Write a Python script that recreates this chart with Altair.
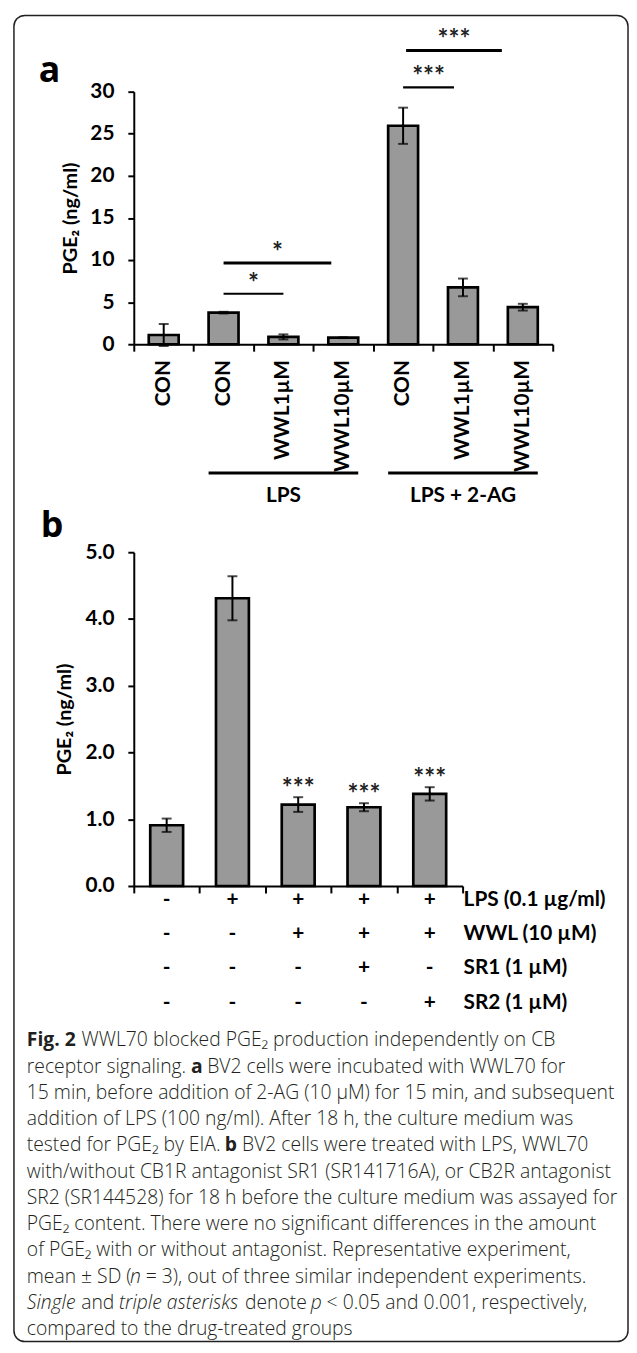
import altair as alt
import pandas as pd

# ---------------- data: panel a ----------------
a_labels = ["CON", "CON", "WWL1µM", "WWL10µM", "CON", "WWL1µM", "WWL10µM"]
a_means = [1.1, 3.75, 0.87, 0.78, 25.95, 6.75, 4.4]
a_sds = [1.3, 0.1, 0.3, 0.05, 2.15, 1.05, 0.4]
a_yticks = [0, 5, 10, 15, 20, 25, 30]
a_group_names = ["LPS", "LPS + 2-AG"]
a_group_first = [1, 4]
a_group_last = [3, 6]
a_sig_labels = ["*", "*", "***", "***"]
a_sig_start = [1.5, 1.5, 4.5, 4.55]
a_sig_end = [2.5, 3.3, 5.35, 6.15]
a_sig_level = [6.0, 9.65, 30.5, 34.9]

# ---------------- data: panel b ----------------
b_means = [0.91, 4.31, 1.22, 1.18, 1.38]
b_sds = [0.1, 0.33, 0.11, 0.06, 0.1]
b_sig = ["", "", "***", "***", "***"]
b_yticks = [0, 1, 2, 3, 4, 5]
table_rows = ["LPS (0.1 µg/ml)", "WWL (10 µM)", "SR1 (1 µM)", "SR2 (1 µM)"]
table_signs = [
    ["-", "+", "+", "+", "+"],
    ["-", "-", "+", "+", "+"],
    ["-", "-", "-", "+", "-"],
    ["-", "-", "-", "-", "+"],
]

# ---------------- caption ----------------
caption_lines = [
    [("Fig. 2", "b"), (" WWL70 blocked PGE₂ production independently on CB", "r")],
    [("receptor signaling. ", "r"), ("a", "b"), (" BV2 cells were incubated with WWL70 for", "r")],
    [("15 min, before addition of 2-AG (10 µM) for 15 min, and subsequent", "r")],
    [("addition of LPS (100 ng/ml). After 18 h, the culture medium was", "r")],
    [("tested for PGE₂ by EIA. ", "r"), ("b", "b"), (" BV2 cells were treated with LPS, WWL70", "r")],
    [("with/without CB1R antagonist SR1 (SR141716A), or CB2R antagonist", "r")],
    [("SR2 (SR144528) for 18 h before the culture medium was assayed for", "r")],
    [("PGE₂ content. There were no significant differences in the amount", "r")],
    [("of PGE₂ with or without antagonist. Representative experiment,", "r")],
    [("mean ± SD (", "r"), ("n", "i"), (" = 3), out of three similar independent experiments.", "r")],
    [("Single", "i"), (" and ", "r"), ("triple asterisks", "i"), (" denote ", "r"), ("p", "i"),
     (" < 0.05 and 0.001, respectively,", "r")],
    [("compared to the drug-treated groups", "r")],
]

# ---------------- layout (pixels) ----------------
LEFT = 134
A_TOP, A_W, A_H = 87, 423, 255
GAP = 210
B_TOP = A_TOP + A_H + GAP
B_W, B_H = 332, 337
C_TOP = B_TOP + B_H + GAP
BLACK = "black"
GREY = "#999999"
FONT = "Lato"
LBL = 21
STAR = 26
CAP_FONT = "Open Sans"
CAP_SIZE = 19.5
CAP_X = 26
CAP_Y0 = 1045
CAP_DY = 26.5

OPEN_SANS = {
    " ": 532, "(": 606, ")": 606, ",": 502, "-": 659, ".": 545, "/": 752, "<": 1171, "=": 1171,
    "±": 1171, "µ": 1268, "₂": 820,
    "A": 1296, "B": 1327, "C": 1292, "D": 1493, "E": 1139, "F": 1057, "G": 1491, "H": 1511,
    "I": 571, "L": 1063, "M": 1849, "N": 1544, "P": 1233, "R": 1266, "S": 1124, "T": 1150,
    "V": 1233, "W": 1882,
    "a": 1133, "b": 1255, "c": 975, "d": 1255, "e": 1149, "f": 694, "g": 1122, "h": 1257,
    "i": 518, "j": 518, "k": 1075, "l": 518, "m": 1905, "n": 1257, "o": 1237, "p": 1255,
    "q": 1255, "r": 836, "s": 977, "t": 723, "u": 1257, "v": 1026, "w": 1593, "x": 1073,
    "y": 1028, "z": 977,
}
for d in "0123456789":
    OPEN_SANS[d] = 1171
STYLE_FACTOR = {"r": 0.957, "b": 1.07, "i": 0.925}


def text_width(s, style):
    return sum(OPEN_SANS.get(ch, 1150) for ch in s) / 2048 * CAP_SIZE * STYLE_FACTOR[style]


def xaxis(n):
    return alt.Axis(values=list(range(n + 1)), labels=False, title=None, grid=False,
                    tickSize=7, tickWidth=2, tickColor=BLACK, domainColor=BLACK, domainWidth=2)


def yaxis(values, fmt, title_x):
    return alt.Axis(values=values, format=fmt, title="PGE₂ (ng/ml)", grid=False,
                    tickSize=6, tickWidth=2, tickColor=BLACK, domainColor=BLACK, domainWidth=2,
                    labelFont=FONT, labelFontWeight="bold", labelFontSize=LBL, labelColor=BLACK,
                    labelPadding=14, titleFont=FONT, titleFontWeight="bold", titleFontSize=20,
                    titleColor=BLACK, titleX=title_x, titleBaseline="middle")


def bar_frame(means, sds):
    n = len(means)
    df = pd.DataFrame({"i": list(range(n)), "mean": means, "sd": sds})
    df["x0"] = df["i"] + 0.25
    df["x1"] = df["i"] + 0.75
    df["xc"] = df["i"] + 0.5
    df["lo"] = df["mean"] - df["sd"]
    df["hi"] = df["mean"] + df["sd"]
    df["base"] = 0.0
    return df


def bar_layers(df, X, Y):
    bars = alt.Chart(df).mark_bar(fill=GREY, stroke=BLACK, strokeWidth=2.7).encode(
        x=X("x0"), x2="x1", y=Y("mean"), y2="base")
    err = alt.Chart(df).mark_rule(color=BLACK, strokeWidth=2).encode(
        x=X("xc"), y=Y("lo"), y2="hi")
    caps = pd.concat([df[["xc", "lo"]].rename(columns={"lo": "v"}),
                      df[["xc", "hi"]].rename(columns={"hi": "v"})])
    cap = alt.Chart(caps).mark_tick(orient="horizontal", size=10, thickness=2, color=BLACK).encode(
        x=X("xc"), y=Y("v"))
    return [bars, err, cap]


# ================= panel a =================
na = len(a_means)
xs_a = alt.Scale(domain=[0, na], nice=False, zero=False)
ys_a = alt.Scale(domain=[0, 30], nice=False)
ax_a = xaxis(na)
ay_a = yaxis(a_yticks, "d", -64)


def XA(f):
    return alt.X(f, type="quantitative", scale=xs_a, axis=ax_a)


def YA(f):
    return alt.Y(f, type="quantitative", scale=ys_a, axis=ay_a)


dfa = bar_frame(a_means, a_sds)
dfa["label"] = a_labels
layers_a = bar_layers(dfa, XA, YA)

layers_a.append(alt.Chart(dfa).mark_text(angle=270, align="right", baseline="middle", font=FONT,
                                         fontWeight="bold", fontSize=LBL, color=BLACK).encode(
    x=XA("xc"), y=alt.value(271), text="label"))

dfg = pd.DataFrame({"name": a_group_names, "first": a_group_first, "last": a_group_last})
dfg["g0"] = dfg["first"] + 0.25
dfg["g1"] = dfg["last"] + 0.75
dfg["gc"] = (dfg["first"] + dfg["last"] + 1) / 2
layers_a.append(alt.Chart(dfg).mark_rule(color=BLACK, strokeWidth=3).encode(
    x=XA("g0"), x2="g1", y=alt.value(385)))
layers_a.append(alt.Chart(dfg).mark_text(font=FONT, fontWeight="bold", fontSize=LBL, color=BLACK,
                                         baseline="middle").encode(
    x=XA("gc"), y=alt.value(408), text="name"))

dfs = pd.DataFrame({"label": a_sig_labels, "s0": a_sig_start, "s1": a_sig_end, "lvl": a_sig_level})
dfs["sc"] = (dfs["s0"] + dfs["s1"]) / 2
dfs["w"] = [2.2 if (e - s) < 1.1 else 3 for s, e in zip(a_sig_start, a_sig_end)]
layers_a.append(alt.Chart(dfs).mark_rule(color=BLACK).encode(
    x=XA("s0"), x2="s1", y=YA("lvl"), strokeWidth=alt.StrokeWidth("w:Q", scale=None)))
layers_a.append(alt.Chart(dfs).mark_text(font=FONT, fontWeight="bold", fontSize=STAR, color="#222",
                                         baseline="middle", dy=-10).encode(
    x=XA("sc"), y=YA("lvl"), text="label"))

layers_a.append(alt.Chart(pd.DataFrame({"t": ["a"]})).mark_text(
    font="Open Sans", fontWeight="bold", fontSize=36, color=BLACK, align="left",
    baseline="alphabetic").encode(x=alt.value(38 - LEFT), y=alt.value(77 - A_TOP), text="t"))

panel_a = alt.layer(*layers_a).properties(width=A_W, height=A_H)

# ================= panel b =================
nb = len(b_means)
xs_b = alt.Scale(domain=[0, nb], nice=False, zero=False)
ys_b = alt.Scale(domain=[0, 5], nice=False)
ax_b = xaxis(nb)
ay_b = yaxis(b_yticks, ".1f", -70)


def XB(f):
    return alt.X(f, type="quantitative", scale=xs_b, axis=ax_b)


def YB(f):
    return alt.Y(f, type="quantitative", scale=ys_b, axis=ay_b)


dfb = bar_frame(b_means, b_sds)
dfb["sig"] = b_sig
layers_b = bar_layers(dfb, XB, YB)
layers_b.append(alt.Chart(dfb).mark_text(font=FONT, fontWeight="bold", fontSize=STAR, color="#222",
                                         baseline="middle", dy=-8).encode(
    x=XB("xc"), y=YB("hi"), text="sig"))

row_px = [351, 385.7, 420.3, 455]
row_vals = [5 * (1 - p / B_H) for p in row_px]
recs = []
for r, signs in enumerate(table_signs):
    for c, s in enumerate(signs):
        recs.append({"xc": c + 0.5, "yv": row_vals[r], "s": s})
dft = pd.DataFrame(recs)
layers_b.append(alt.Chart(dft).mark_text(font=FONT, fontWeight="bold", fontSize=LBL, color=BLACK,
                                         baseline="middle").encode(
    x=XB("xc"), y=YB("yv"), text="s"))
dfr = pd.DataFrame({"name": table_rows, "yv": row_vals, "xr": [float(nb)] * len(table_rows)})
layers_b.append(alt.Chart(dfr).mark_text(font=FONT, fontWeight="bold", fontSize=LBL, color=BLACK,
                                         baseline="middle", align="left", dx=1).encode(
    x=XB("xr"), y=YB("yv"), text="name"))
layers_b.append(alt.Chart(pd.DataFrame({"t": ["b"]})).mark_text(
    font="Open Sans", fontWeight="bold", fontSize=36, color=BLACK, align="left",
    baseline="alphabetic").encode(x=alt.value(40 - LEFT), y=alt.value(537 - B_TOP), text="t"))

panel_b = alt.layer(*layers_b).properties(width=B_W, height=B_H)

# ================= caption + frame =================
segs = []
for k, line in enumerate(caption_lines):
    x = CAP_X
    y = CAP_Y0 + k * CAP_DY
    for txt, st in line:
        lead = len(txt) - len(txt.lstrip(" "))
        trail = len(txt) - len(txt.rstrip(" "))
        core = txt.strip(" ")
        x += lead * text_width(" ", "r")
        segs.append({"px": x - LEFT, "py": y - C_TOP, "t": core, "st": st})
        x += text_width(core, st) + trail * text_width(" ", "r")
dfc = pd.DataFrame(segs)

cap_layers = []
for st, weight, style in [("r", 300, "normal"), ("b", "bold", "normal"), ("i", 300, "italic")]:
    cap_layers.append(alt.Chart(dfc[dfc["st"] == st]).mark_text(
        font=CAP_FONT, fontSize=CAP_SIZE, fontWeight=weight, fontStyle=style, color="#231f20",
        align="left", baseline="middle").encode(
        x=alt.X("px:Q", scale=None, axis=None), y=alt.Y("py:Q", scale=None, axis=None), text="t"))

frame = alt.Chart(pd.DataFrame({"k": [0]})).mark_rect(
    fillOpacity=0, stroke="#231f20", strokeWidth=1.5, cornerRadius=11).encode(
    x=alt.value(13 - LEFT), x2=alt.value(633 - LEFT),
    y=alt.value(10 - C_TOP), y2=alt.value(1349 - C_TOP))

caption = alt.layer(frame, *cap_layers).properties(width=1, height=1)

chart = alt.vconcat(panel_a, panel_b, caption, spacing=GAP, bounds="flush").properties(
    padding={"left": 5, "top": 0, "right": 0, "bottom": 0}, background="white"
).configure_view(strokeWidth=0, stroke="transparent")

chart.save("out.html", embed_options={"renderer": "svg", "actions": False})
